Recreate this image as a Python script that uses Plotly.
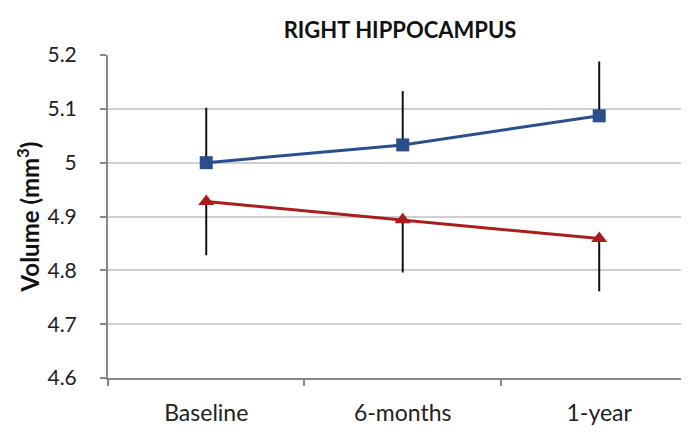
import plotly.graph_objects as go

categories = ["Baseline", "6-months", "1-year"]
blue_values = [5.000, 5.033, 5.087]
blue_err_plus = [0.102, 0.100, 0.101]
red_values = [4.928, 4.894, 4.859]
red_err_minus = [0.100, 0.098, 0.098]
y_ticks = [4.6, 4.7, 4.8, 4.9, 5.0, 5.1, 5.2]
y_tick_labels = ["4.6", "4.7", "4.8", "4.9", "5", "5.1", "5.2"]

xpos = list(range(len(categories)))
font_family = "Lato, Open Sans, sans-serif"

fig = go.Figure()
fig.add_trace(go.Scatter(
    x=xpos, y=blue_values, mode="lines+markers",
    line=dict(color="#2B4F8C", width=3),
    marker=dict(symbol="square", size=13, color="#2B4F8C"),
    error_y=dict(type="data", symmetric=False, array=blue_err_plus,
                 arrayminus=[0] * len(blue_values), color="#111111",
                 thickness=2, width=0),
    showlegend=False,
))
fig.add_trace(go.Scatter(
    x=xpos, y=red_values, mode="lines+markers",
    line=dict(color="#A81E1E", width=3),
    marker=dict(symbol="triangle-up", size=14, color="#A81E1E"),
    error_y=dict(type="data", symmetric=False, array=[0] * len(red_values),
                 arrayminus=red_err_minus, color="#111111",
                 thickness=2, width=0),
    showlegend=False,
))

fig.update_layout(
    width=689, height=437,
    margin=dict(l=100, r=8, t=47, b=67, autoexpand=False),
    paper_bgcolor="white", plot_bgcolor="white",
    title=dict(text="<b>RIGHT HIPPOCAMPUS</b>", x=392 / 689, xref="container",
               xanchor="center", y=1 - 22 / 437, yref="container",
               yanchor="middle",
               font=dict(family=font_family, size=22, color="#111111")),
    font=dict(family=font_family, color="#222222"),
)
fig.update_xaxes(
    range=[-0.5, 2.457], tickvals=xpos, ticktext=categories,
    ticks="", showgrid=False, zeroline=False, automargin=False,
    showline=True, linecolor="#888888", linewidth=2,
    tickfont=dict(size=23, color="#222222"), ticklabelstandoff=13,
    minor=dict(tickvals=[-0.5, 0.5, 1.5], ticks="outside", ticklen=6,
               tickcolor="#888888", tickwidth=2, showgrid=False),
)
fig.update_yaxes(
    range=[4.6, 5.2], tickvals=y_ticks, ticktext=y_tick_labels,
    ticks="outside", ticklen=6, tickcolor="#888888", tickwidth=2,
    showgrid=True, gridcolor="#CFCFCF", gridwidth=2, zeroline=False,
    showline=True, linecolor="#888888", linewidth=2, automargin=False,
    tickfont=dict(size=21, color="#222222"), ticklabelstandoff=19,
    title=dict(text="<b>Volume (mm<sup>3</sup>)</b>", standoff=1,
               font=dict(size=24, color="#111111")),
)

fig.write_html("out.html")
